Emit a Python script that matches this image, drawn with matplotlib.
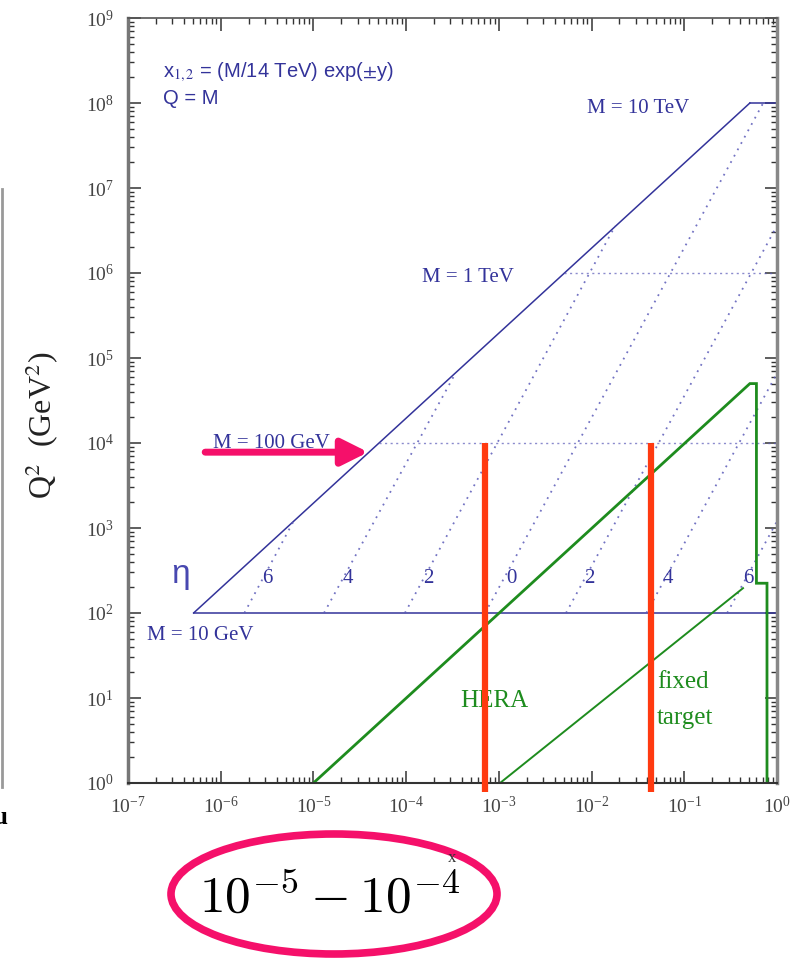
import matplotlib
matplotlib.use('Agg')
import matplotlib.pyplot as plt
from matplotlib.patches import Ellipse
from matplotlib.lines import Line2D
from matplotlib.ticker import LogLocator, LogFormatterSciNotation, NullFormatter

plt.rcParams['font.family'] = 'serif'
plt.rcParams['font.serif'] = ['Liberation Serif', 'DejaVu Serif']
plt.rcParams['mathtext.fontset'] = 'stix'

# kinematic boundary and mass lines (x, Q^2)
boundary_x = [5.1e-7, 0.51]
boundary_q2 = [1e2, 1e8]

mass_labels = ['M = 10 GeV', 'M = 100 GeV', 'M = 1 TeV', 'M = 10 TeV']
mass_q2 = [1e2, 1e4, 1e6, 1e8]
mass_x_start = [5.1e-7, 5.1e-5, 5.1e-3, 0.51]
mass_x_end = [1.0, 1.0, 1.0, 1.0]
mass_solid = [True, False, False, True]

# rapidity lines
eta_labels = ['6', '4', '2', '0', '2', '4', '6']
eta_x_start = [1.8e-6, 1.3e-5, 9.7e-5, 7.1e-4, 5.3e-3, 3.9e-2, 0.29]
eta_q2_start = [1e2, 1e2, 1e2, 1e2, 1e2, 1e2, 1e2]
eta_x_end = [6.1e-6, 3.4e-4, 1.8e-2, 0.71, 1.0, 1.0, 1.0]
eta_q2_end = [1.2e3, 6.6e4, 3.6e6, 1e8, 3.6e6, 6.6e4, 1.2e3]

# HERA and fixed target regions
hera_x = [1e-5, 0.51, 0.6, 0.6, 0.78, 0.78]
hera_q2 = [1, 5e4, 5e4, 224, 224, 1]
fixed_x = [1.03e-3, 0.43]
fixed_q2 = [1, 196]

# red markers
red_x = [7.1e-4, 0.044]
red_q2_top = 1e4
red_q2_bottom = 0.78

blue = '#33339a'
dot_blue = '#5a5ab8'
green = '#1e8c1e'
red = '#ff3a10'
pink = '#f5106a'

fig = plt.figure(figsize=(7.92, 9.66), dpi=100)
W, H = 792.0, 966.0
L, R, B, T = 128, 777, 783, 18
ax = fig.add_axes([L / W, 1 - B / H, (R - L) / W, (B - T) / H])
ax.set_xscale('log')
ax.set_yscale('log')
ax.set_xlim(1e-7, 1)
ax.set_ylim(1, 1e9)


def px(x, y):
    # pixel position in the picture -> axes fraction
    return (x - L) / (R - L), (B - y) / (B - T)


# boundary line
ax.plot(boundary_x, boundary_q2, color=blue, lw=1.1)

for q2, x0, x1, solid in zip(mass_q2, mass_x_start, mass_x_end, mass_solid):
    if solid:
        ax.plot([x0, x1], [q2, q2], color=blue, lw=1.1)
    else:
        ax.plot([x0, x1], [q2, q2], color=dot_blue, lw=1.0,
                linestyle=(0, (1.5, 2.5)), alpha=0.7)

for x0, q0, x1, q1 in zip(eta_x_start, eta_q2_start, eta_x_end, eta_q2_end):
    ax.plot([x0, x1], [q0, q1], color=dot_blue, lw=1.3,
            linestyle=(0, (1, 3)), alpha=0.85)

ax.plot(hera_x, hera_q2, color=green, lw=2.0, solid_joinstyle='miter')
ax.plot(fixed_x, fixed_q2, color=green, lw=1.4)

for xr in red_x:
    ax.plot([xr, xr], [red_q2_bottom, red_q2_top], color=red, lw=4.5,
            clip_on=False, solid_capstyle='butt', zorder=5)

# texts
ax.text(*px(163, 77), r'x$_{1,2}$ = (M/14 TeV) exp($\pm$y)', transform=ax.transAxes,
        family='Liberation Sans', fontsize=14.5, color=blue, va='baseline')
ax.text(*px(163, 104), 'Q = M', transform=ax.transAxes,
        family='Liberation Sans', fontsize=14.5, color=blue, va='baseline')

mass_pos = [(147, 640), (213, 448), (422, 282), (587, 113)]
for lab, (xp, yp) in zip(mass_labels, mass_pos):
    ax.text(*px(xp, yp), lab, transform=ax.transAxes, fontsize=15,
            color=blue, va='baseline')

ax.text(*px(181, 583), 'η', transform=ax.transAxes, fontsize=24,
        family='Liberation Sans', color='#4848b0', ha='center', va='baseline')
eta_label_x = [267, 348, 428, 511, 589, 668, 748]
for lab, xp in zip(eta_labels, eta_label_x):
    ax.text(*px(xp, 583), lab, transform=ax.transAxes, fontsize=15,
            color=blue, ha='center', va='baseline')

ax.text(*px(460, 707), 'HERA', transform=ax.transAxes, fontsize=18,
        color=green, va='baseline')
ax.text(*px(657, 688), 'fixed', transform=ax.transAxes, fontsize=18,
        color=green, va='baseline')
ax.text(*px(657, 724), 'target', transform=ax.transAxes, fontsize=18,
        color=green, va='baseline')

# axes styling
for axis in (ax.xaxis, ax.yaxis):
    axis.set_major_locator(LogLocator(base=10, numticks=20))
    axis.set_minor_locator(LogLocator(base=10, subs=range(2, 10), numticks=20))
    axis.set_major_formatter(LogFormatterSciNotation())
    axis.set_minor_formatter(NullFormatter())

ax.tick_params(which='both', direction='in', top=True, right=True,
               colors='#333333', labelcolor='#444444', labelsize=14)
ax.tick_params(which='major', length=9, width=1.1)
ax.tick_params(which='minor', length=4.5, width=1.0)
ax.tick_params(axis='y', which='major', pad=10)
ax.tick_params(axis='x', which='major', pad=9)

ax.spines['left'].set_linewidth(2.5)
ax.spines['left'].set_color('#777777')
ax.spines['right'].set_linewidth(2.5)
ax.spines['right'].set_color('#888888')
ax.spines['bottom'].set_linewidth(1.5)
ax.spines['bottom'].set_color('#333333')
ax.spines['top'].set_linewidth(1.2)
ax.spines['top'].set_color('#555555')

fig.text(42 / W, 1 - 425 / H, r'Q$^2$  (GeV$^2$)', rotation=90, fontsize=23,
         ha='center', va='center', color='#222222')
fig.text(452 / W, 1 - 858 / H, 'x', fontsize=12, ha='center', va='center',
         color='#333333')

# pink arrow
ax.annotate('', xy=(3.9e-5, 7.8e3), xytext=(6.8e-7, 7.8e3),
            arrowprops=dict(arrowstyle='-|>,head_length=0.8,head_width=0.4',
                            lw=5, color=pink, mutation_scale=20,
                            shrinkA=0, shrinkB=0), zorder=6)

# pink ellipse with range label
fig.patches.append(Ellipse((334 / W, 1 - 894 / H), 326 / W, 120 / H,
                           transform=fig.transFigure, fill=False,
                           edgecolor=pink, lw=5.5))
fig.text(330 / W, 1 - 899 / H, r'$10^{-5} - 10^{-4}$', fontsize=37,
         math_fontfamily='cm', ha='center', va='center', color='black')

# left-edge remnants of a neighbouring panel
fig.add_artist(Line2D([1.5 / W, 1.5 / W], [1 - 189 / H, 1 - 787 / H],
                      color='#999999', lw=2, transform=fig.transFigure))
fig.text(-6 / W, 1 - 818 / H, 'u', fontsize=18, fontweight='bold',
         ha='left', va='center', color='black')

fig.savefig('out.png', dpi=100)
